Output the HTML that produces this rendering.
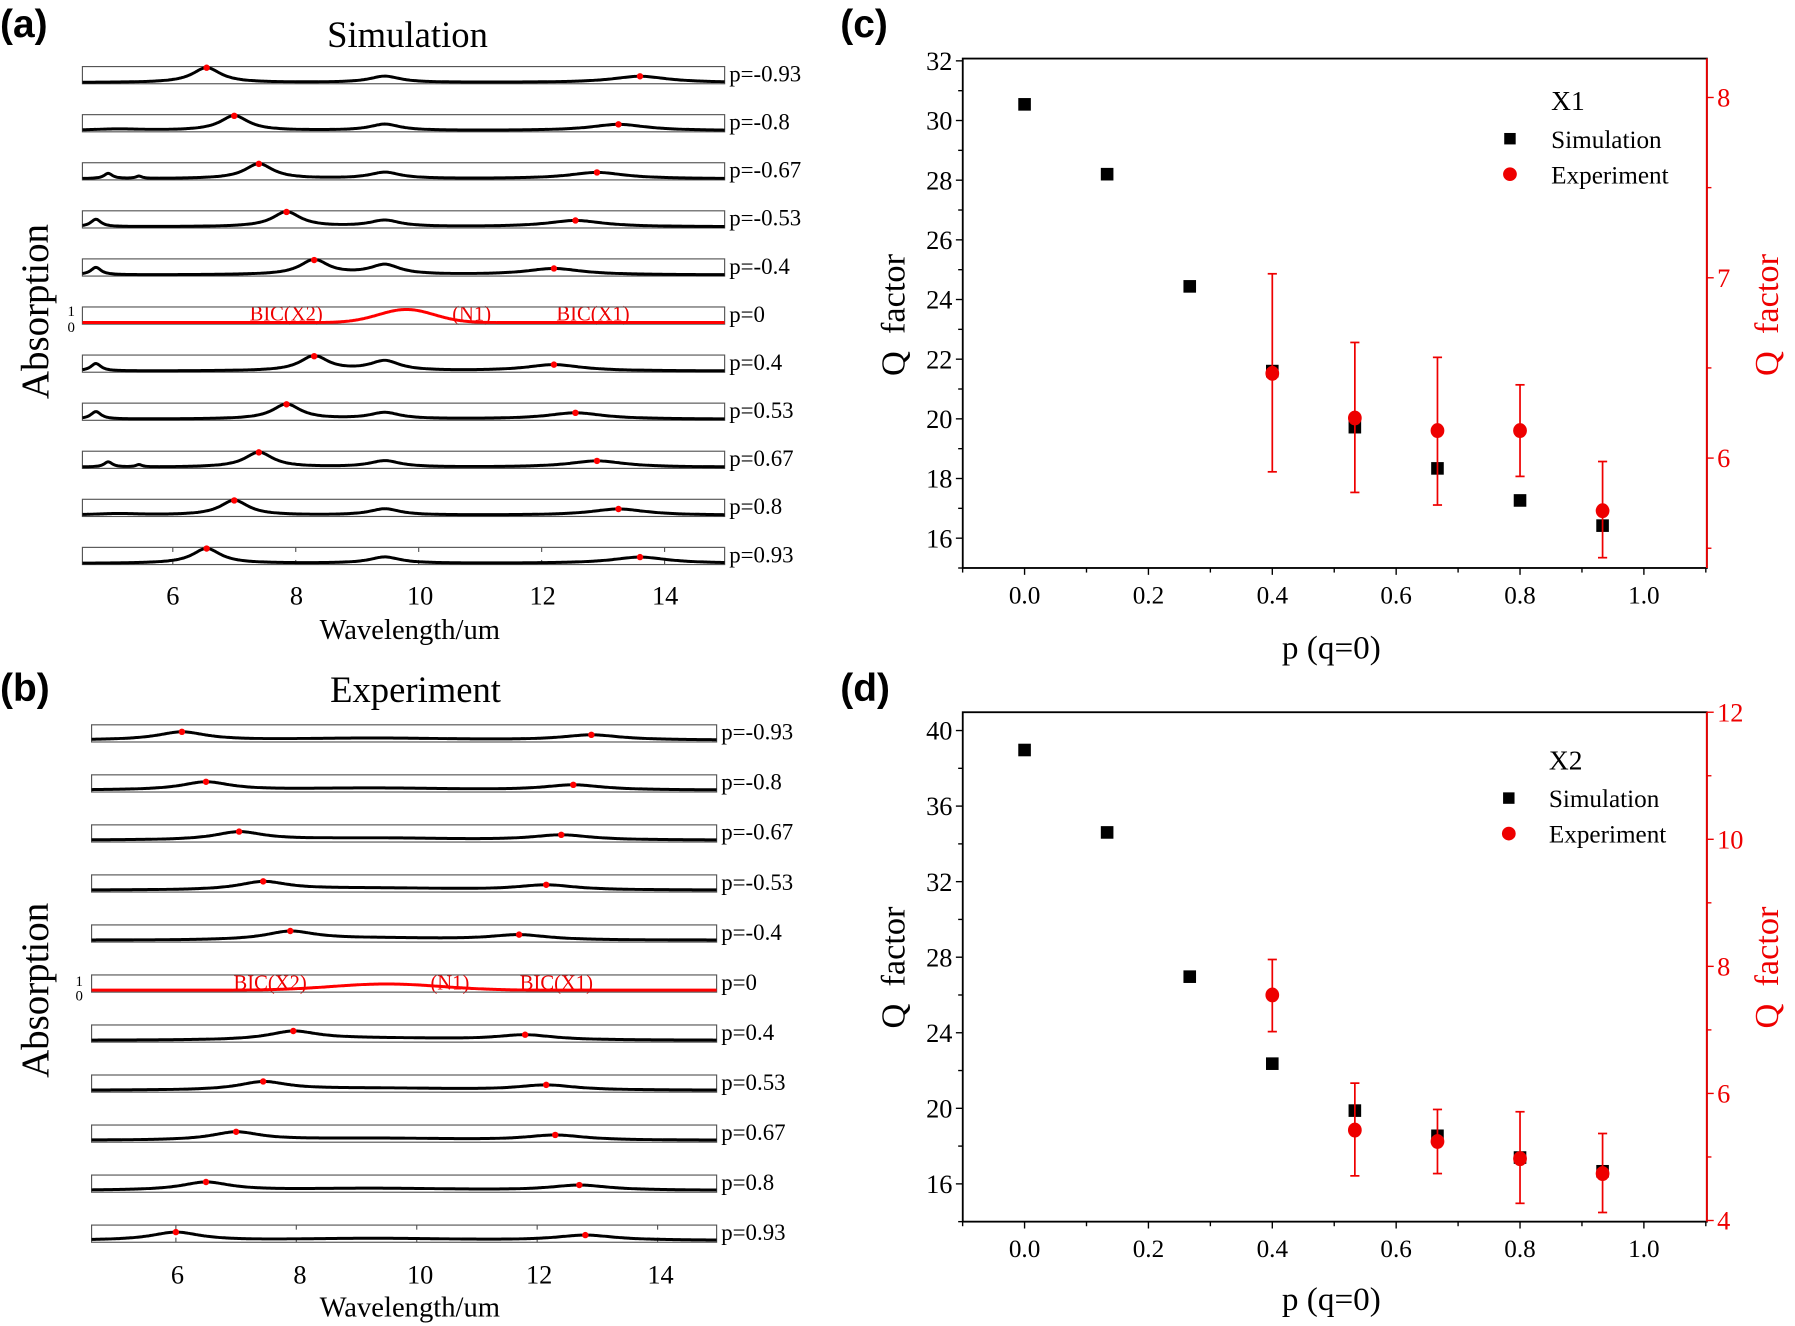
<!DOCTYPE html>
<html><head><meta charset="utf-8"><style>
html,body{margin:0;padding:0;background:#fff;}
svg{display:block;}
text{font-family:"Liberation Serif",serif;}
.lab{font-family:"Liberation Sans",sans-serif;font-weight:bold;font-size:34px;}
</style></head><body>
<svg id="s" width="1795" height="1326" viewBox="0 0 1568 1158" xmlns="http://www.w3.org/2000/svg">
<rect width="1568" height="1158" fill="#fff"/>
<text class="lab" x="0" y="32">(a)</text>
<text class="lab" x="0" y="612">(b)</text>
<text class="lab" x="734" y="32">(c)</text>
<text class="lab" x="734" y="612">(d)</text>

<text x="356" y="41" font-size="32" text-anchor="middle">Simulation</text>
<text x="363" y="613" font-size="32" text-anchor="middle">Experiment</text>
<text transform="translate(42,272) rotate(-90)" font-size="34" text-anchor="middle">Absorption</text>
<text transform="translate(42,865) rotate(-90)" font-size="34" text-anchor="middle">Absorption</text>
<g font-size="23" text-anchor="middle">
<text x="151" y="528">6</text><text x="259" y="528">8</text><text x="367" y="528">10</text><text x="474" y="528">12</text><text x="581" y="528">14</text>
<text x="155" y="1121">6</text><text x="262" y="1121">8</text><text x="367" y="1121">10</text><text x="471" y="1121">12</text><text x="577" y="1121">14</text>
</g>
<text x="358" y="558" font-size="25" text-anchor="middle">Wavelength/um</text>
<text x="358" y="1150" font-size="25" text-anchor="middle">Wavelength/um</text>
<g font-size="13"><text x="59" y="276">1</text><text x="59" y="290">0</text><text x="66" y="861">1</text><text x="66" y="874">0</text></g>
<g font-size="18" fill="#e00" text-anchor="middle">
<text x="250" y="280">BIC(X2)</text><text x="412" y="280">(N1)</text><text x="518" y="280">BIC(X1)</text>
<text x="236" y="864">BIC(X2)</text><text x="393" y="864">(N1)</text><text x="486" y="864">BIC(X1)</text>
</g>
<g font-size="30">
<text transform="translate(790,275) rotate(-90)" text-anchor="middle">Q&#160;&#160;factor</text>
<text transform="translate(1553,275) rotate(-90)" text-anchor="middle" fill="#e00">Q&#160;&#160;factor</text>
<text transform="translate(790,845) rotate(-90)" text-anchor="middle">Q&#160;&#160;factor</text>
<text transform="translate(1553,845) rotate(-90)" text-anchor="middle" fill="#e00">Q&#160;&#160;factor</text>
</g>
<text x="1163" y="575" font-size="29" text-anchor="middle">p (q=0)</text>
<text x="1163" y="1144" font-size="29" text-anchor="middle">p (q=0)</text>
<g font-size="24">
<text x="1355" y="96">X1</text>
<text x="1353" y="672">X2</text>
</g>
<g font-size="22">
<rect x="1314" y="116" width="10" height="10" fill="#000"/><text x="1355" y="129">Simulation</text>
<circle cx="1319" cy="152" r="6" fill="#e00"/><text x="1355" y="160">Experiment</text>
<rect x="1313" y="692" width="10" height="10" fill="#000"/><text x="1353" y="705">Simulation</text>
<circle cx="1318" cy="728" r="6" fill="#e00"/><text x="1353" y="736">Experiment</text>
</g>
</svg>
<script>
var NS="http://www.w3.org/2000/svg",S=document.getElementById('s');
function el(t,a,p){var e=document.createElementNS(NS,t);for(var k in a)e.setAttribute(k,a[k]);(p||S).appendChild(e);return e;}
function txt(x,y,s,a,p){var e=el('text',Object.assign({x:x,y:y},a||{}),p);e.textContent=s;return e;}
function lor(x,c,h,w){return h/(1+Math.pow((x-c)/w,2));}
function gau(x,c,h,w){return h*Math.exp(-Math.pow((x-c)/w,2)/2);}
var labs=["-0.93","-0.8","-0.67","-0.53","-0.4","0","0.4","0.53","0.67","0.8","0.93"];
function strips(cfg){
 for(var i=0;i<11;i++){
  var top=cfg.top+i*cfg.sp,H=15,bot=top+H;
  el('rect',{x:cfg.x0,y:top,width:cfg.x1-cfg.x0,height:H,fill:'none',stroke:'#555','stroke-width':1});
  txt(cfg.x1+4,top+13,'p='+labs[i],{'font-size':20});
  if(i==10){for(var t=6;t<=14;t+=2){var X=cfg.x0+(t-cfg.w0)*cfg.k;el('line',{x1:X,x2:X,y1:top,y2:top+4,stroke:'#555'});el('line',{x1:X,x2:X,y1:bot,y2:bot-4,stroke:'#555'});}}
  var f=cfg.fn(labs[i]),d='';
  for(var X=cfg.x0;X<=cfg.x1;X+=1){var w=cfg.w0+(X-cfg.x0)/cfg.k;var v=f.f(w);if(v>1)v=1;d+=(X==cfg.x0?'M':'L')+X+' '+(bot-1-v*(H-2)).toFixed(1);}
  el('path',{d:d,fill:'none',stroke:labs[i]=="0"?'#f00':'#000','stroke-width':2.6,'stroke-linejoin':'round'});
  f.dots.forEach(function(dw){var X=cfg.x0+(dw-cfg.w0)*cfg.k;var v=Math.min(1,f.f(dw));el('circle',{cx:X,cy:bot-1-v*(H-2),r:2.8,fill:'#f00'});});
 }
}
var simP={"0.93":[6.55,13.6],"0.8":[7.0,13.25],"0.67":[7.4,12.9],"0.53":[7.85,12.55],"0.4":[8.3,12.2]};
strips({x0:72,x1:633,top:58,sp:42,w0:4.53,k:53.7,fn:function(p){
 if(p=="0")return{f:function(x){return gau(x,9.8,0.88,0.45)+0.03;},dots:[]};
 var a=p.replace('-',''),c=simP[a];
 return{f:function(x){var v=lor(x,c[0],1,0.28)+lor(x,c[1],0.42,0.55)+lor(x,9.45,a=="0.4"?0.65:0.42,0.3);
  if(a=="0.53"||a=="0.4")v+=lor(x,4.75,0.5,0.1);
  if(a=="0.67"){v+=lor(x,4.95,0.35,0.08)+lor(x,5.45,0.15,0.06);}
  if(a=="0.8")v+=lor(x,5.1,0.1,0.5);
  return v;},dots:[c[0],c[1]]};}});
var expP={"-0.93":[6.1,12.9],"-0.8":[6.5,12.6],"-0.67":[7.05,12.4],"-0.53":[7.45,12.15],"-0.4":[7.9,11.7],"0.4":[7.95,11.8],"0.53":[7.45,12.15],"0.67":[7.0,12.3],"0.8":[6.5,12.7],"0.93":[6.0,12.8]};
strips({x0:80,x1:626,top:633,sp:43.7,w0:4.6,k:52.6,fn:function(p){
 if(p=="0")return{f:function(x){return gau(x,9.5,0.42,0.9)+0.05;},dots:[]};
 var c=expP[p];
 return{f:function(x){return lor(x,c[0],0.55,0.5)+lor(x,c[1],0.35,0.6)+gau(x,9.3,0.12,1.2)+0.05;},dots:[c[0],c[1]]};}});

function qplot(o){
 var x0=841,x1=1491,y0=o.top,y1=o.bot;
 el('rect',{x:x0,y:y0,width:x1-x0,height:y1-y0,fill:'none',stroke:'#000','stroke-width':1.6});
 el('line',{x1:x1,x2:x1,y1:y0,y2:y1,stroke:'#e00','stroke-width':1.6});
 function px(p){return 895+p*541;}
 for(var p=-0.1;p<=1.101;p+=0.1){var X=px(p),maj=Math.abs(Math.round(p*10)%2)==0;el('line',{x1:X,x2:X,y1:y1,y2:y1+(maj?6:4),stroke:'#000','stroke-width':1.2});}
 [0,0.2,0.4,0.6,0.8,1.0].forEach(function(p){txt(px(p),y1+31,p.toFixed(1),{'text-anchor':'middle','font-size':22});});
 function yl(v){return o.ly0+(v-o.lv0)*o.lk;}
 function yr(v){return o.ry0+(v-o.rv0)*o.rk;}
 for(var v=o.lmin;v<=o.lmax+1e-6;v+=o.lminor){var Y=yl(v);if(Y<y0-1||Y>y1+1)continue;var maj=Math.abs((v-o.lv0)/o.lstep-Math.round((v-o.lv0)/o.lstep))<1e-6;el('line',{x1:x0,x2:x0-(maj?6:4),y1:Y,y2:Y,stroke:'#000','stroke-width':1.2});if(maj)txt(x0-9,Y+8,String(v),{'text-anchor':'end','font-size':23});}
 for(var v=o.rmin;v<=o.rmax+1e-6;v+=o.rminor){var Y=yr(v);if(Y<y0-1||Y>y1+1)continue;var maj=Math.abs((v-o.rv0)/o.rstep-Math.round((v-o.rv0)/o.rstep))<1e-6;el('line',{x1:x1,x2:x1+(maj?6:4),y1:Y,y2:Y,stroke:'#e00','stroke-width':1.2});if(maj)txt(x1+9,Y+8,String(v),{'font-size':23,fill:'#e00'});}
 var ps=[0,0.1333,0.2667,0.4,0.5333,0.6667,0.8,0.9333];
 o.sim.forEach(function(y,i){el('rect',{x:px(ps[i])-5.5,y:y-5.5,width:11,height:11,fill:'#000'});});
 o.exp.forEach(function(e,i){var X=px(ps[i+3]);el('line',{x1:X,x2:X,y1:e[1],y2:e[2],stroke:'#e00','stroke-width':1.5});el('line',{x1:X-4,x2:X+4,y1:e[1],y2:e[1],stroke:'#e00','stroke-width':1.5});el('line',{x1:X-4,x2:X+4,y1:e[2],y2:e[2],stroke:'#e00','stroke-width':1.5});el('ellipse',{cx:X,cy:e[0],rx:6,ry:6.5,fill:'#e00'});});
}
qplot({top:51,bot:496,ly0:53,lv0:32,lk:-26.06,lstep:2,lminor:1,lmin:14,lmax:33,ry0:85,rv0:8,rk:-157.5,rstep:1,rminor:0.5,rmin:5,rmax:8.5,
 sim:[91,152,250,324,373,409,437,459],
 exp:[[326,239,412],[365,299,430],[376,312,441],[376,336,416],[446,403,487]]});
qplot({top:622,bot:1067,ly0:638,lv0:40,lk:-16.5,lstep:4,lminor:2,lmin:14,lmax:40,ry0:622,rv0:12,rk:-55.5,rstep:2,rminor:1,rmin:4,rmax:12,
 sim:[655,727,853,929,970,992,1011,1023],
 exp:[[869,838,901],[987,946,1027],[997,969,1025],[1012,971,1051],[1025,990,1059]]});
</script>
</body></html>
